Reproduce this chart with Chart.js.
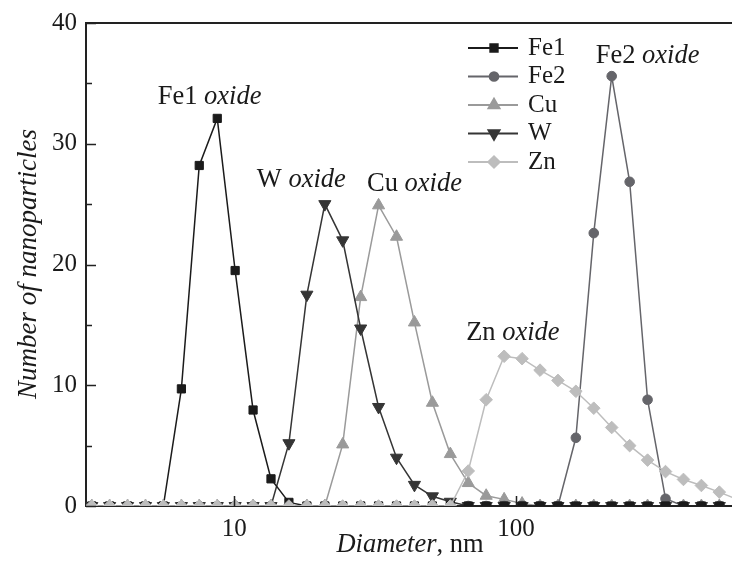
<!DOCTYPE html>
<html>
<head>
<meta charset="utf-8">
<script src="https://cdn.jsdelivr.net/npm/chart.js@4.4.0/dist/chart.umd.min.js"></script>
<style>
  html, body { margin: 0; padding: 0; background: #fff; overflow: hidden; }
  canvas { display: block; }
</style>
</head>
<body>
<canvas id="sizeChart" width="732" height="561"></canvas>
<script>
// diameters of the size bins, nm
var diameters = [3.12, 3.61, 4.18, 4.84, 5.60, 6.49, 7.51, 8.70, 10.07, 11.66,
  13.50, 15.63, 18.10, 20.96, 24.26, 28.09, 32.52, 37.66, 43.60, 50.49,
  58.46, 67.69, 78.37, 90.75, 105.1, 121.7, 140.9, 163.1, 188.8, 218.6,
  253.2, 293.1, 339.4, 393.0, 455.0, 526.8, 609.8];

var fe1 = [0, 0, 0, 0, 0, 9.7, 28.2, 32.1, 19.5, 7.95,
  2.25, 0.3, 0, 0, 0, 0, 0, 0, 0, 0,
  0, 0, 0, 0, 0, 0, 0, 0, 0, 0,
  0, 0, 0, 0, 0, 0, 0];
var fe2 = [0, 0, 0, 0, 0, 0, 0, 0, 0, 0,
  0, 0, 0, 0, 0, 0, 0, 0, 0, 0,
  0, 0, 0, 0, 0, 0, 0, 5.65, 22.6, 35.6,
  26.85, 8.8, 0.6, 0, 0, 0, 0];
var cu = [0, 0, 0, 0, 0, 0, 0, 0, 0, 0,
  0, 0, 0, 0, 5.1, 17.3, 24.9, 22.3, 15.2, 8.55,
  4.3, 1.9, 0.85, 0.55, 0.2, 0, 0, 0, 0, 0,
  0, 0, 0, 0, 0, 0, 0];
var w = [0, 0, 0, 0, 0, 0, 0, 0, 0, 0,
  0, 5.2, 17.5, 25.0, 22.0, 14.7, 8.2, 4.0, 1.75, 0.8,
  0.35, 0, 0, 0, 0, 0, 0, 0, 0, 0,
  0, 0, 0, 0, 0, 0, 0];
var zn = [0, 0, 0, 0, 0, 0, 0, 0, 0, 0,
  0, 0, 0, 0, 0, 0, 0, 0, 0, 0,
  0, 2.9, 8.8, 12.4, 12.2, 11.25, 10.4, 9.5, 8.1, 6.5,
  5.0, 3.8, 2.85, 2.2, 1.7, 1.15, 0.55];

var xTicks = [10, 100];
var yTicks = [0, 10, 20, 30, 40];
var yMinorTicks = [5, 15, 25, 35];

// peak labels: [element, x (nm), y]
var peakLabels = [
  ['Fe1', 8.17, 33.9],
  ['W', 17.3, 27.0],
  ['Cu', 43.6, 26.7],
  ['Zn', 97.5, 14.3],
  ['Fe2', 293, 37.3]
];

var serif = '"Liberation Serif", "Times New Roman", Times, serif';

// chart.js keeps 8px free right of the x axis; let the lines run on to the edge
var rightBleed = 8;

function pts(arr) {
  return diameters.map(function(d, i) { return {x: d, y: arr[i]}; });
}

function series(label, arr, color, style, rot, radius, order) {
  return {
    label: label,
    data: pts(arr),
    borderColor: color,
    backgroundColor: color,
    borderWidth: 1.5,
    pointStyle: style,
    rotation: rot,
    pointRadius: radius,
    pointBorderWidth: 1,
    pointBorderColor: color,
    pointBackgroundColor: color,
    tension: 0,
    clip: {left: 0, top: 0, right: rightBleed, bottom: 0},
    order: order
  };
}

var datasets = [
  series('Fe1', fe1, '#1b1b1b', 'rect', 0, 5.8, 2),
  series('Fe2', fe2, '#65656a', 'circle', 0, 4.8, 4),
  series('Cu', cu, '#9a9a9a', 'triangle', 0, 7, 5),
  series('W', w, '#353535', 'triangle', 180, 7, 3),
  series('Zn', zn, '#bdbdbd', 'rectRot', 0, 6.3, 1)
];

function drawMixed(ctx, parts, x, y, size, align) {
  // parts: [[text, italic], ...]
  var total = 0;
  parts.forEach(function(p) {
    ctx.font = (p[1] ? 'italic ' : '') + size + 'px ' + serif;
    total += ctx.measureText(p[0]).width;
  });
  var cx = align === 'center' ? x - total / 2 : x;
  ctx.textAlign = 'left';
  parts.forEach(function(p) {
    ctx.font = (p[1] ? 'italic ' : '') + size + 'px ' + serif;
    ctx.fillText(p[0], cx, y);
    cx += ctx.measureText(p[0]).width;
  });
}

var decorations = {
  id: 'decorations',
  afterDraw: function(chart) {
    var ctx = chart.ctx;
    var area = chart.chartArea;
    var xs = chart.scales.x, ys = chart.scales.y;
    ctx.save();
    ctx.strokeStyle = '#222';
    ctx.fillStyle = '#1a1a1a';

    // top frame line, and the bottom axis carried on to the edge
    ctx.lineWidth = 2;
    ctx.beginPath();
    ctx.moveTo(area.left - 1, area.top);
    ctx.lineTo(chart.width, area.top);
    ctx.moveTo(area.right - 1, area.bottom);
    ctx.lineTo(chart.width, area.bottom);
    ctx.stroke();

    // inward ticks
    ctx.lineWidth = 1.5;
    ctx.beginPath();
    xTicks.forEach(function(v) {
      var px = Math.round(xs.getPixelForValue(v)) + 0.5;
      ctx.moveTo(px, area.bottom);
      ctx.lineTo(px, area.bottom - 10);
    });
    yTicks.forEach(function(v) {
      var py = Math.round(ys.getPixelForValue(v)) + 0.5;
      ctx.moveTo(area.left, py);
      ctx.lineTo(area.left + 10, py);
    });
    yMinorTicks.forEach(function(v) {
      var py = Math.round(ys.getPixelForValue(v)) + 0.5;
      ctx.moveTo(area.left, py);
      ctx.lineTo(area.left + 6, py);
    });
    ctx.stroke();

    // peak labels
    ctx.textBaseline = 'middle';
    peakLabels.forEach(function(l) {
      drawMixed(ctx, [[l[0] + ' ', false], ['oxide', true]],
        xs.getPixelForValue(l[1]), ys.getPixelForValue(l[2]), 26.5, 'center');
    });

    // axis titles
    drawMixed(ctx, [['Diameter', true], [', nm', false]], 410, 545, 26.5, 'center');
    ctx.save();
    ctx.translate(29, 264);
    ctx.rotate(-Math.PI / 2);
    drawMixed(ctx, [['Number of nanoparticles', true]], 0, 0, 27, 'center');
    ctx.restore();

    // legend
    var lx = 468, ly = 48, step = 28.5;
    chart.data.datasets.forEach(function(ds, i) {
      var yy = ly + i * step;
      ctx.strokeStyle = ds.borderColor;
      ctx.lineWidth = 2;
      ctx.beginPath();
      ctx.moveTo(lx, yy);
      ctx.lineTo(lx + 50, yy);
      ctx.stroke();
      ctx.fillStyle = ds.pointBackgroundColor;
      Chart.helpers.drawPoint(ctx, {
        pointStyle: ds.pointStyle,
        rotation: ds.rotation,
        radius: ds.pointRadius * 0.9,
        borderWidth: 1
      }, lx + 26, yy);
      ctx.fillStyle = '#1a1a1a';
      ctx.font = '25px ' + serif;
      ctx.textAlign = 'left';
      ctx.textBaseline = 'middle';
      ctx.fillText(ds.label, lx + 60, yy);
    });
    ctx.restore();
  }
};

var ctx = document.getElementById('sizeChart').getContext('2d');
var sizeChart = new Chart(ctx, {
  type: 'line',
  data: { datasets: datasets },
  options: {
    responsive: false,
    animation: false,
    layout: { padding: { top: 23, right: 0, left: 0, bottom: 0 } },
    plugins: {
      legend: { display: false },
      tooltip: { enabled: false }
    },
    scales: {
      x: {
        type: 'logarithmic',
        min: 2.976,
        max: 547.4,
        afterBuildTicks: function(scale) {
          scale.ticks = xTicks.map(function(v) { return {value: v}; });
        },
        afterFit: function(scale) { scale.height = 55; },
        grid: { display: false, drawTicks: false },
        border: { display: true, color: '#222', width: 2 },
        ticks: {
          autoSkip: false,
          maxRotation: 0,
          padding: 8,
          color: '#1a1a1a',
          font: { family: serif, size: 25 },
          callback: function(v) { return String(v); }
        }
      },
      y: {
        type: 'linear',
        min: 0,
        max: 40,
        afterBuildTicks: function(scale) {
          scale.ticks = yTicks.map(function(v) { return {value: v}; });
        },
        afterFit: function(scale) { scale.width = 86; },
        grid: { display: false, drawTicks: false },
        border: { display: true, color: '#222', width: 2 },
        ticks: {
          padding: 9,
          color: '#1a1a1a',
          font: { family: serif, size: 25, lineHeight: 1.1 }
        }
      }
    }
  },
  plugins: [decorations]
});
</script>
</body>
</html>
